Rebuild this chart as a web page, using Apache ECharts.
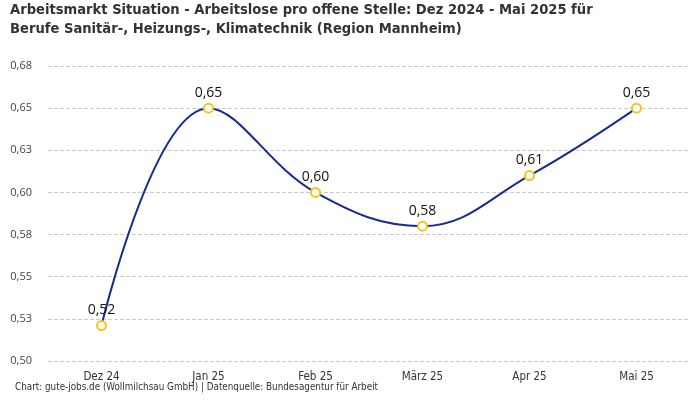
<!DOCTYPE html>
<html><head><meta charset="utf-8">
<script src="https://cdn.jsdelivr.net/npm/echarts@6/dist/echarts.min.js"></script>
<style>html,body{margin:0;padding:0;background:#fff}#c{width:700px;height:400px}</style>
</head><body><div id="c"></div>
<script>
const categories = ['Dez 24','Jan 25','Feb 25','März 25','Apr 25','Mai 25'];
const values = [0.521, 0.65, 0.60, 0.58, 0.61, 0.65];
const titleLines = ['Arbeitsmarkt Situation - Arbeitslose pro offene Stelle: Dez 2024 - Mai 2025 für','Berufe Sanitär-, Heizungs-, Klimatechnik (Region Mannheim)'];
const footer = 'Chart: gute-jobs.de (Wollmilchsau GmbH) | Datenquelle: Bundesagentur für Arbeit';
const fmt = v => (Math.round(v*100 + 1e-6)/100).toFixed(2).replace('.', ',');
const FONT = '"DejaVu Sans Condensed", sans-serif';
const chart = echarts.init(document.getElementById('c'));
chart.setOption({
  animation:false,
  textStyle:{fontFamily:FONT},
  title:[
    {text:titleLines.join('\n'), left:10, top:1, padding:0, textStyle:{fontFamily:FONT, fontSize:14.6, fontWeight:'bold', color:'#333', lineHeight:19}},
    {text:footer, left:10, bottom:3, textStyle:{fontFamily:FONT, fontSize:9.8, fontWeight:'normal', color:'#333'}}
  ],
  grid:{left:48, right:10, top:66, bottom:39, containLabel:false, outerBoundsMode:'none'},
  xAxis:{type:'category', data:categories, boundaryGap:true,
    axisLine:{show:false}, axisTick:{show:false},
    axisLabel:{color:'#333', fontSize:11.5, margin:10, fontFamily:FONT}},
  yAxis:{type:'value', min:0.5, max:0.675, interval:0.025,
    axisLine:{show:false}, axisTick:{show:false},
    axisLabel:{color:'#444', fontSize:11, formatter:fmt, margin:16, fontFamily:'"Open Sans", sans-serif'},
    splitLine:{lineStyle:{type:'dashed', color:'#ccc'}}},
  series:[{type:'line', data:values, smooth:0.4,
    lineStyle:{color:'#1b2a8f', width:2},
    itemStyle:{color:'#fff', borderColor:'#f5c518', borderWidth:2},
    symbol:'circle', symbolSize:9, showAllSymbol:true,
    label:{show:true, position:'top', distance:3, formatter:p=>fmt(p.value), color:'#111', fontSize:14, fontWeight:500, fontFamily:'"Open Sans", sans-serif'}
  }]
});
</script></body></html>
